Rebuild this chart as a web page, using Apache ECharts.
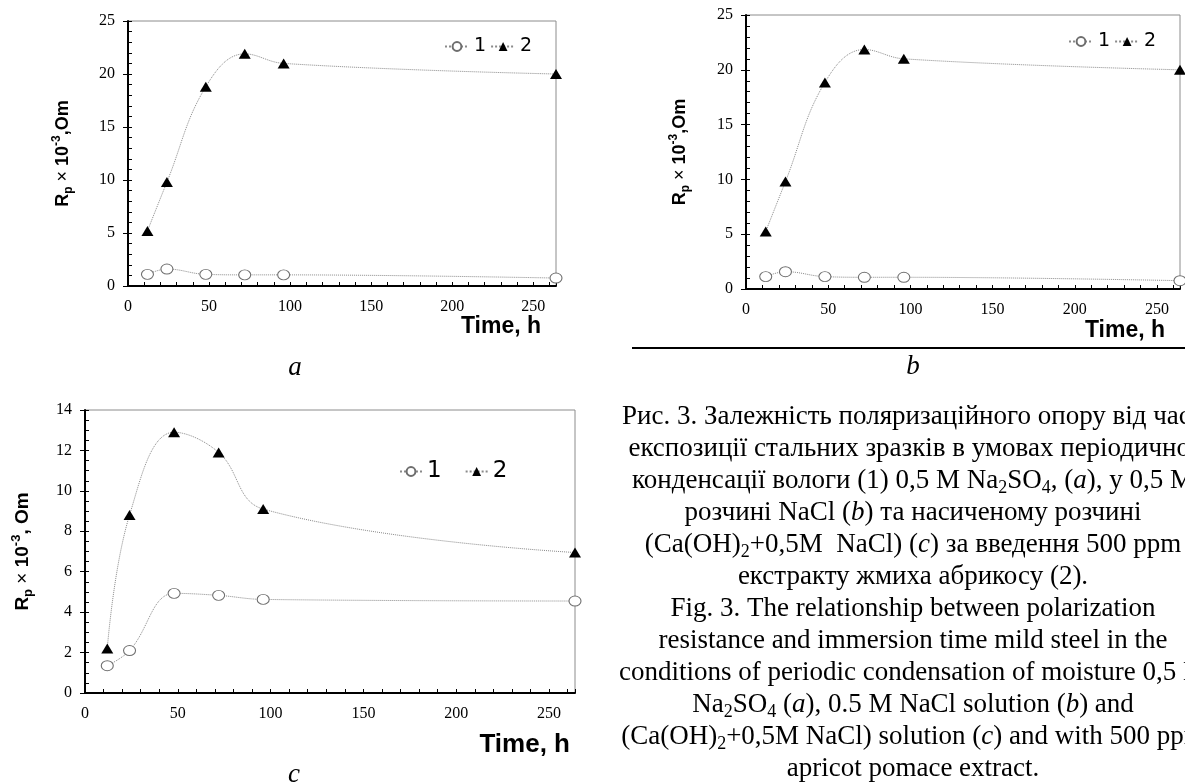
<!DOCTYPE html>
<html>
<head>
<meta charset="utf-8">
<title>Rp vs exposure time</title>
<script src="https://cdn.jsdelivr.net/npm/echarts@6.0.0/dist/echarts.min.js"></script>
<style>
  html, body { margin: 0; padding: 0; background: #fff; }
  #chart { width: 1185px; height: 783px; }
</style>
</head>
<body>
<div id="chart"></div>
<script>
// exposure time, h
const hours = [12, 24, 48, 72, 96, 264];
// Rp x 10^-3, Om   (1) no inhibitor, (2) 500 ppm apricot pomace extract
const rpNa2SO4Blank   = [1.1, 1.6, 1.1, 1.05, 1.05, 0.75];
const rpNa2SO4Extract = [5.2, 9.8, 18.8, 21.9, 21.0, 20.0];
const rpNaClBlank     = [1.13, 1.58, 1.13, 1.07, 1.07, 0.76];
const rpNaClExtract   = [5.25, 9.8, 18.85, 21.85, 21.0, 20.0];
const rpCaOHBlank     = [1.35, 2.1, 4.93, 4.83, 4.63, 4.55];
const rpCaOHExtract   = [2.2, 8.8, 12.9, 11.9, 9.1, 6.95];
const seriesNames = ['1', '2'];
const panelLetters = ['a', 'b', 'c'];

// axis ranges / ticks
const xMax = 264, xStep = 50, xMinorStep = 10;
const yMax = [25, 25, 14];
const yStep = [5, 5, 2];
const yMinorStep = [1, 1, 0.5];

const captionLines = [
  'Рис. 3. Залежність поляризаційного опору від часу',
  'експозиції стальних зразків в умовах періодичної',
  'конденсації вологи (1) 0,5 M Na{s|2}SO{s|4}, ({i|a}), у 0,5 M',
  'розчині NaCl ({i|b}) та насиченому розчині',
  '(Ca(OH){s|2}+0,5M  NaCl) ({i|c}) за введення 500 ppm',
  'екстракту жмиха абрикосу (2).',
  'Fig. 3. The relationship between polarization',
  'resistance and immersion time mild steel in the',
  'conditions of periodic condensation of moisture 0,5 M',
  'Na{s|2}SO{s|4} ({i|a}), 0.5 M NaCl solution ({i|b}) and',
  '(Ca(OH){s|2}+0,5M NaCl) solution ({i|c}) and with 500 ppm',
  'apricot pomace extract.'
];

const panels = [
  { grid: {left: 128, top: 21, width: 428, height: 265}, blank: rpNa2SO4Blank, ext: rpNa2SO4Extract,
    yName: '{r|R}{sub|p}{x| × }{r|10}{sup|-3}{r|,Om}', nameGap: 53, nameSize: 18,
    legend: {left: 444, top: 37, gap: 4, size: 19, w: 24},
    timeAt: [541, 327], timeSize: 23, letterAt: [295, 368] },
  { grid: {left: 746, top: 15, width: 434, height: 274}, blank: rpNaClBlank, ext: rpNaClExtract,
    yName: '{r|R}{sub|p}{x| × }{r|10}{sup|-3}{r|,Om}', nameGap: 54, nameSize: 18,
    legend: {left: 1068, top: 32, gap: 4, size: 19, w: 24},
    timeAt: [1165, 331], timeSize: 23, letterAt: [913, 367] },
  { grid: {left: 85, top: 410, width: 490, height: 283}, blank: rpCaOHBlank, ext: rpCaOHExtract,
    yName: '{r|R}{sub|p}{x| × }{r|10}{sup|-3}{r|, Om}', nameGap: 50, nameSize: 19,
    legend: {left: 399, top: 460, gap: 23, size: 23, w: 22},
    timeAt: [570, 745], timeSize: 26, letterAt: [294, 775] }
];

const serif = 'Liberation Serif';
const sans = 'Liberation Sans';

const grids = [], xAxes = [], yAxes = [], series = [], legends = [], graphics = [];

panels.forEach((p, i) => {
  grids.push(Object.assign({show: true, borderColor: '#8c8c8c', borderWidth: 1,
    backgroundColor: 'transparent', containLabel: false, outerBoundsMode: 'none'}, p.grid));

  const tickLabel = {fontFamily: serif, fontSize: 16, color: '#000'};
  const ns = p.nameSize, ss = Math.round(ns * 0.68);
  // labelled axes
  xAxes[i] = {
    gridIndex: i, type: 'value', min: 0, max: xMax, interval: xStep,
    axisLine: {show: true, lineStyle: {color: '#000', width: 2}},
    axisTick: {show: false}, splitLine: {show: false},
    axisLabel: Object.assign({margin: 13, showMaxLabel: false}, tickLabel)
  };
  yAxes[i] = {
    gridIndex: i, type: 'value', position: 'left', min: 0, max: yMax[i], interval: yStep[i],
    axisLine: {show: true, lineStyle: {color: '#000', width: 2}},
    axisTick: {show: true, length: 5, lineStyle: {color: '#000', width: 1}},
    splitLine: {show: false},
    axisLabel: Object.assign({margin: 13}, tickLabel),
    name: p.yName, nameLocation: 'middle', nameRotate: 90, nameGap: p.nameGap,
    nameTextStyle: {
      fontFamily: sans, fontWeight: 'bold', fontSize: ns, color: '#000',
      rich: {
        r: {fontFamily: sans, fontWeight: 'bold', fontSize: ns, lineHeight: ns + 6, color: '#000'},
        x: {fontFamily: sans, fontWeight: 'normal', fontSize: ns, lineHeight: ns + 6, color: '#000'},
        sub: {fontFamily: sans, fontWeight: 'bold', fontSize: ss, lineHeight: ss, verticalAlign: 'bottom', color: '#000'},
        sup: {fontFamily: sans, fontWeight: 'bold', fontSize: ss, lineHeight: ss, verticalAlign: 'top', color: '#000'}
      }
    }
  };
  // tick-only overlay axes (minor ticks inside)
  xAxes[i + 3] = {
    gridIndex: i, type: 'value', position: 'bottom', min: 0, max: xMax, interval: xMinorStep,
    axisLine: {show: false}, axisLabel: {show: false}, splitLine: {show: false},
    axisTick: {show: true, inside: true, length: 4, lineStyle: {color: '#000', width: 1}}
  };
  yAxes[i + 3] = {
    gridIndex: i, type: 'value', position: 'left', min: 0, max: yMax[i], interval: yMinorStep[i],
    axisLine: {show: false}, axisLabel: {show: false}, splitLine: {show: false},
    axisTick: {show: true, inside: true, length: 4, lineStyle: {color: '#000', width: 1}}
  };

  [p.blank, p.ext].forEach((vals, k) => {
    series.push({
      name: seriesNames[k], type: 'line', xAxisIndex: i, yAxisIndex: i,
      data: hours.map((h, j) => [h, vals[j]]),
      smooth: 0.4,
      symbol: k === 0 ? 'circle' : 'triangle',
      symbolSize: k === 0 ? [12, 10] : [12, 10],
      itemStyle: k === 0 ? {color: '#fff', borderColor: '#6e6e6e', borderWidth: 1} : {color: '#000'},
      lineStyle: {color: '#8a8a8a', width: 1, type: 'dotted'},
      emphasis: {disabled: true},
      z: 3 + k
    });
  });

  legends.push({
    data: seriesNames, orient: 'horizontal', left: p.legend.left, top: p.legend.top,
    padding: 0, itemGap: p.legend.gap, itemWidth: p.legend.w, itemHeight: 11,
    selectedMode: false,
    textStyle: {fontFamily: 'DejaVu Sans', fontSize: p.legend.size, color: '#000'}
  });

  graphics.push({
    type: 'text', x: p.timeAt[0], y: p.timeAt[1],
    style: {text: 'Time, h', align: 'right', verticalAlign: 'middle',
      font: 'bold ' + p.timeSize + 'px "' + sans + '"', fill: '#000'}
  });
  graphics.push({
    type: 'text', x: p.letterAt[0], y: p.letterAt[1],
    style: {text: panelLetters[i], align: 'center', verticalAlign: 'middle',
      font: 'italic 27px "' + serif + '"', fill: '#000'}
  });
});

// rule under panel b
graphics.push({type: 'line', shape: {x1: 632, y1: 348, x2: 1185, y2: 348},
  style: {stroke: '#000', lineWidth: 2}});

// figure caption
captionLines.forEach((t, k) => {
  graphics.push({
    type: 'text', x: 913, y: 417 + k * 32,
    style: {
      text: t, align: 'center', verticalAlign: 'middle',
      fontFamily: serif, fontSize: 27, lineHeight: 32, fill: '#000',
      rich: {
        i: {fontFamily: serif, fontSize: 27, fontStyle: 'italic', lineHeight: 32, fill: '#000'},
        s: {fontFamily: serif, fontSize: 18, lineHeight: 18, verticalAlign: 'bottom', fill: '#000'}
      }
    }
  });
});

const chart = echarts.init(document.getElementById('chart'), null, {renderer: 'canvas'});
chart.setOption({
  animation: false,
  backgroundColor: '#fff',
  grid: grids,
  xAxis: xAxes,
  yAxis: yAxes,
  legend: legends,
  series: series,
  graphic: graphics
});
</script>
</body>
</html>
